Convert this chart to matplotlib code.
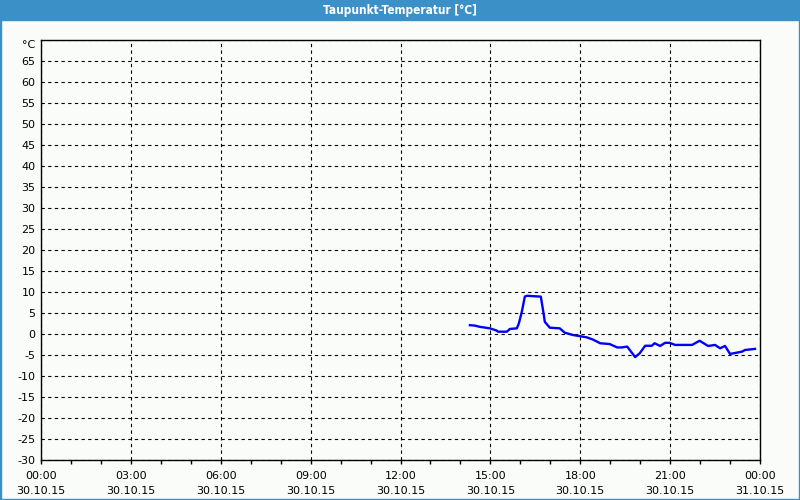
import matplotlib
matplotlib.use("Agg")
import numpy as np
from matplotlib import pyplot as plt
from matplotlib.patches import Rectangle

plt.rcParams.update({"font.family": "DejaVu Sans", "font.size": 8})

title = "Taupunkt-Temperatur [°C]"

# dew point readings, 30.10.15
times = ["14:19", "14:29", "14:39", "14:59", "15:13", "15:15", "15:33", "15:39",
         "15:53", "15:57", "16:03", "16:09", "16:13", "16:41", "16:46", "16:49",
         "16:59", "17:19", "17:29", "17:46", "17:59", "18:13", "18:25", "18:40",
         "18:59", "19:14", "19:23", "19:34", "19:50", "19:59", "20:10", "20:23",
         "20:29", "20:40", "20:50", "20:59", "21:10", "21:44", "21:59", "22:16",
         "22:30", "22:40", "22:50", "23:00", "23:24", "23:30", "23:50"]
values = [2.1, 2.0, 1.7, 1.35, 0.8, 0.55, 0.55, 1.2,
          1.35, 2.5, 5.3, 8.9, 9.1, 8.9, 5.3, 2.9,
          1.5, 1.35, 0.3, -0.25, -0.5, -0.8, -1.3, -2.2,
          -2.4, -3.2, -3.2, -3.0, -5.5, -4.6, -2.8, -2.8,
          -2.2, -2.85, -2.1, -2.1, -2.6, -2.6, -1.6, -2.85,
          -2.6, -3.4, -2.85, -4.75, -4.2, -3.8, -3.55]

x_ticks = list(range(0, 25, 3))
x_labels = ["00:00\n30.10.15", "03:00\n30.10.15", "06:00\n30.10.15",
            "09:00\n30.10.15", "12:00\n30.10.15", "15:00\n30.10.15",
            "18:00\n30.10.15", "21:00\n30.10.15", "00:00\n31.10.15"]
y_ticks = list(range(-30, 75, 5))
y_labels = [str(v) for v in y_ticks[:-1]] + ["°C"]

hours = [int(t[:2]) + int(t[3:]) / 60 for t in times]

bg = "#fafcfa"
blue = "#3c90c8"

fig = plt.figure(figsize=(8, 5), dpi=100, facecolor=bg)

# title bar and frame
fig.patches.append(Rectangle((0, 0.96), 1, 0.04, transform=fig.transFigure,
                             color=blue, zorder=0))
fig.patches.append(Rectangle((0, 0), 0.0015, 1, transform=fig.transFigure,
                             color=blue, zorder=0))
fig.patches.append(Rectangle((0.9985, 0), 0.0015, 1, transform=fig.transFigure,
                             color=blue, zorder=0))
fig.patches.append(Rectangle((0, 0), 1, 0.003, transform=fig.transFigure,
                             color=blue, zorder=0))
fig.text(0.5, 0.979, title, color="white", ha="center", va="center",
         fontsize=8.5, fontweight="bold", fontstretch="condensed")

ax = fig.add_axes([0.05125, 0.08, 0.89875, 0.84])
ax.set_facecolor(bg)

ax.plot(hours, values, '-', color="#0000ff", lw=1.7, zorder=3)

ax.set_xlim(0, 24)
ax.set_ylim(-30, 70)
ax.set_xticks(x_ticks)
ax.set_xticklabels(x_labels, linespacing=1.65)
ax.set_xticks(range(0, 25), minor=True)
ax.set_yticks(y_ticks)
ax.set_yticklabels(y_labels)
ax.get_yticklabels()[-1].set_va("top")

ax.tick_params(axis='x', which='both', length=3, width=1, direction='out', pad=5)
ax.tick_params(axis='y', length=0, pad=4)

for s in ax.spines.values():
    s.set_color("black")
    s.set_linewidth(1)

ax.grid(True, which='major', color="black", linestyle=(0, (3, 3)), linewidth=0.8)

plt.savefig("out.png", dpi=100, facecolor=bg)
